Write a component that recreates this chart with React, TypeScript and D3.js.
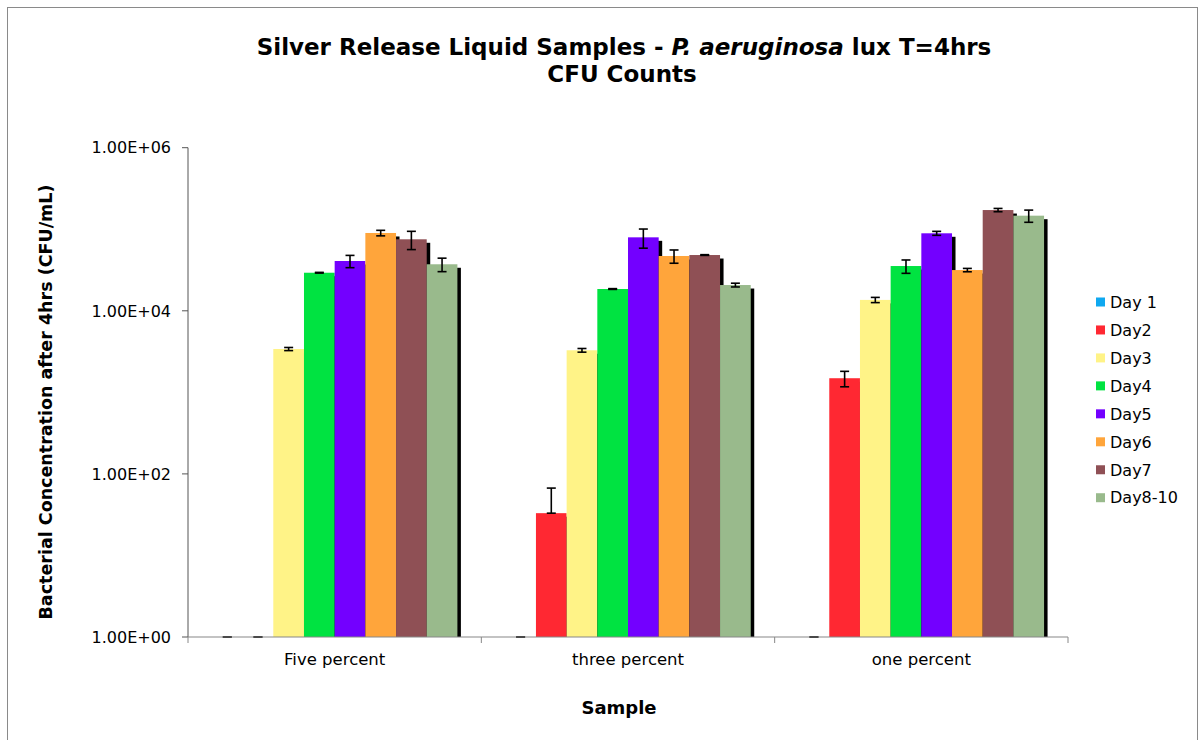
import React from "react";
import * as d3 from "d3";

const categories = ["Five percent", "three percent", "one percent"];
const seriesNames = ["Day 1", "Day2", "Day3", "Day4", "Day5", "Day6", "Day7", "Day8-10"];
const seriesColors = ["#0fa8f0", "#ff2832", "#fff387", "#00e341", "#7300ff", "#ffa53b", "#8f5055", "#99ba8c"];

// values per series, one per category (1 = axis floor, i.e. no growth)
const day1 = [1, 1, 1];
const day2 = [1, 33, 1490];
const day3 = [3400, 3280, 13600];
const day4 = [29300, 18500, 35400];
const day5 = [40800, 79600, 89200];
const day6 = [90000, 47000, 31600];
const day7 = [75300, 48300, 172000];
const day8to10 = [37200, 20700, 146700];
const seriesValues = [day1, day2, day3, day4, day5, day6, day7, day8to10];

// error bar half-widths
const err1 = [0, 0, 0];
const err2 = [0, 34, 320];
const err3 = [150, 170, 1000];
const err4 = [300, 200, 6600];
const err5 = [7000, 21000, 5000];
const err6 = [7000, 8700, 1500];
const err7 = [19000, 500, 8000];
const err8 = [7000, 1100, 25000];
const seriesErrors = [err1, err2, err3, err4, err5, err6, err7, err8];

const yTicks = [1, 100, 10000, 1000000];
const yTickLabels = ["1.00E+00", "1.00E+02", "1.00E+04", "1.00E+06"];

const W = 1198;
const H = 740;
const left = 188;
const right = 1068;
const top = 147.7;
const bottom = 637;

export default function App() {
  const y = d3.scaleLog().domain([1, 1e6]).range([bottom, top]);
  const xGroup = d3.scaleBand<string>().domain(categories).range([left, right]).padding(0);
  const xInner = d3
    .scaleBand<string>()
    .domain(seriesNames)
    .range([0, xGroup.bandwidth()])
    .paddingInner(0)
    .paddingOuter(0.78);

  const bw = xInner.bandwidth();
  const sh = 3.5;

  const marks: React.ReactNode[] = [];
  categories.forEach((cat, ci) => {
    seriesNames.forEach((s, si) => {
      const v = seriesValues[si][ci];
      const x0 = (xGroup(cat) as number) + (xInner(s) as number);
      const yTop = y(v);
      const h = bottom - yTop;
      if (h > 0.5) {
        marks.push(
          <rect key={`sh-${ci}-${si}`} x={x0 + sh} y={yTop + sh} width={bw} height={Math.max(0, h - sh)} fill="#000" />
        );
        marks.push(
          <rect key={`b-${ci}-${si}`} x={x0} y={yTop} width={bw} height={h} fill={seriesColors[si]} />
        );
      }
    });
  });

  const errMarks: React.ReactNode[] = [];
  categories.forEach((cat, ci) => {
    seriesNames.forEach((s, si) => {
      const v = seriesValues[si][ci];
      const e = seriesErrors[si][ci];
      const cx = (xGroup(cat) as number) + (xInner(s) as number) + bw / 2;
      const yHi = y(v + e);
      const lo = v - e > 0 ? v - e : v;
      const yLo = Math.min(bottom, y(Math.max(1, lo)));
      errMarks.push(
        <g key={`e-${ci}-${si}`} stroke="#000" strokeWidth={1.6}>
          <line x1={cx} x2={cx} y1={yHi} y2={yLo} />
          <line x1={cx - 4.5} x2={cx + 4.5} y1={yHi} y2={yHi} />
          <line x1={cx - 4.5} x2={cx + 4.5} y1={yLo} y2={yLo} />
        </g>
      );
    });
  });

  const font = "'DejaVu Sans', Verdana, sans-serif";

  return (
    <div style={{ position: "absolute", left: 0, top: 0 }}>
      <svg width={W} height={H} style={{ display: "block", background: "#fff" }}>
        <rect x={7.5} y={7.5} width={W - 8} height={H} fill="#fff" stroke="#8a8a8a" strokeWidth={1} />

        <text x={624} y={54.5} textAnchor="middle" fontFamily={font} fontWeight="bold" fontSize={23} fill="#000">
          <tspan>Silver Release Liquid Samples - </tspan>
          <tspan fontStyle="italic">P. aeruginosa</tspan>
          <tspan> lux T=4hrs</tspan>
        </text>
        <text x={622} y={82} textAnchor="middle" fontFamily={font} fontWeight="bold" fontSize={23} fill="#000">
          CFU Counts
        </text>

        {marks}
        {errMarks}

        {/* y axis */}
        <line x1={left} x2={left} y1={top} y2={bottom} stroke="#555" strokeWidth={1} />
        {yTicks.map((t, i) => (
          <g key={`yt-${i}`}>
            <line x1={left - 6} x2={left} y1={y(t)} y2={y(t)} stroke="#555" strokeWidth={1} />
            <text
              x={171}
              y={y(t)}
              dy="0.36em"
              textAnchor="end"
              fontFamily={font}
              fontSize={16}
              fill="#000"
            >
              {yTickLabels[i]}
            </text>
          </g>
        ))}

        {/* x axis */}
        <line x1={left} x2={right} y1={bottom} y2={bottom} stroke="#888" strokeWidth={1.2} />
        {[0, 1, 2, 3].map((i) => {
          const xx = i < 3 ? (xGroup(categories[i]) as number) : right;
          return <line key={`xt-${i}`} x1={xx} x2={xx} y1={bottom} y2={bottom + 6} stroke="#888" strokeWidth={1} />;
        })}
        {categories.map((c) => (
          <text
            key={c}
            x={(xGroup(c) as number) + xGroup.bandwidth() / 2}
            y={665}
            textAnchor="middle"
            fontFamily={font}
            fontSize={16.5}
            fill="#000"
          >
            {c}
          </text>
        ))}

        <text x={619} y={714} textAnchor="middle" fontFamily={font} fontWeight="bold" fontSize={18} fill="#000">
          Sample
        </text>
        <text
          transform={`translate(52, 402) rotate(-90)`}
          textAnchor="middle"
          fontFamily={font}
          fontWeight="bold"
          fontSize={17.5}
          fill="#000"
        >
          Bacterial Concentration after 4hrs (CFU/mL)
        </text>

        {/* legend */}
        {seriesNames.map((s, i) => {
          const ly = 302 + i * 27.96;
          return (
            <g key={`lg-${s}`}>
              <rect x={1096} y={ly - 4.5} width={9} height={9} fill={seriesColors[i]} />
              <text x={1110} y={ly} dy="0.36em" fontFamily={font} fontSize={16} fill="#000">
                {s}
              </text>
            </g>
          );
        })}
      </svg>
    </div>
  );
}
